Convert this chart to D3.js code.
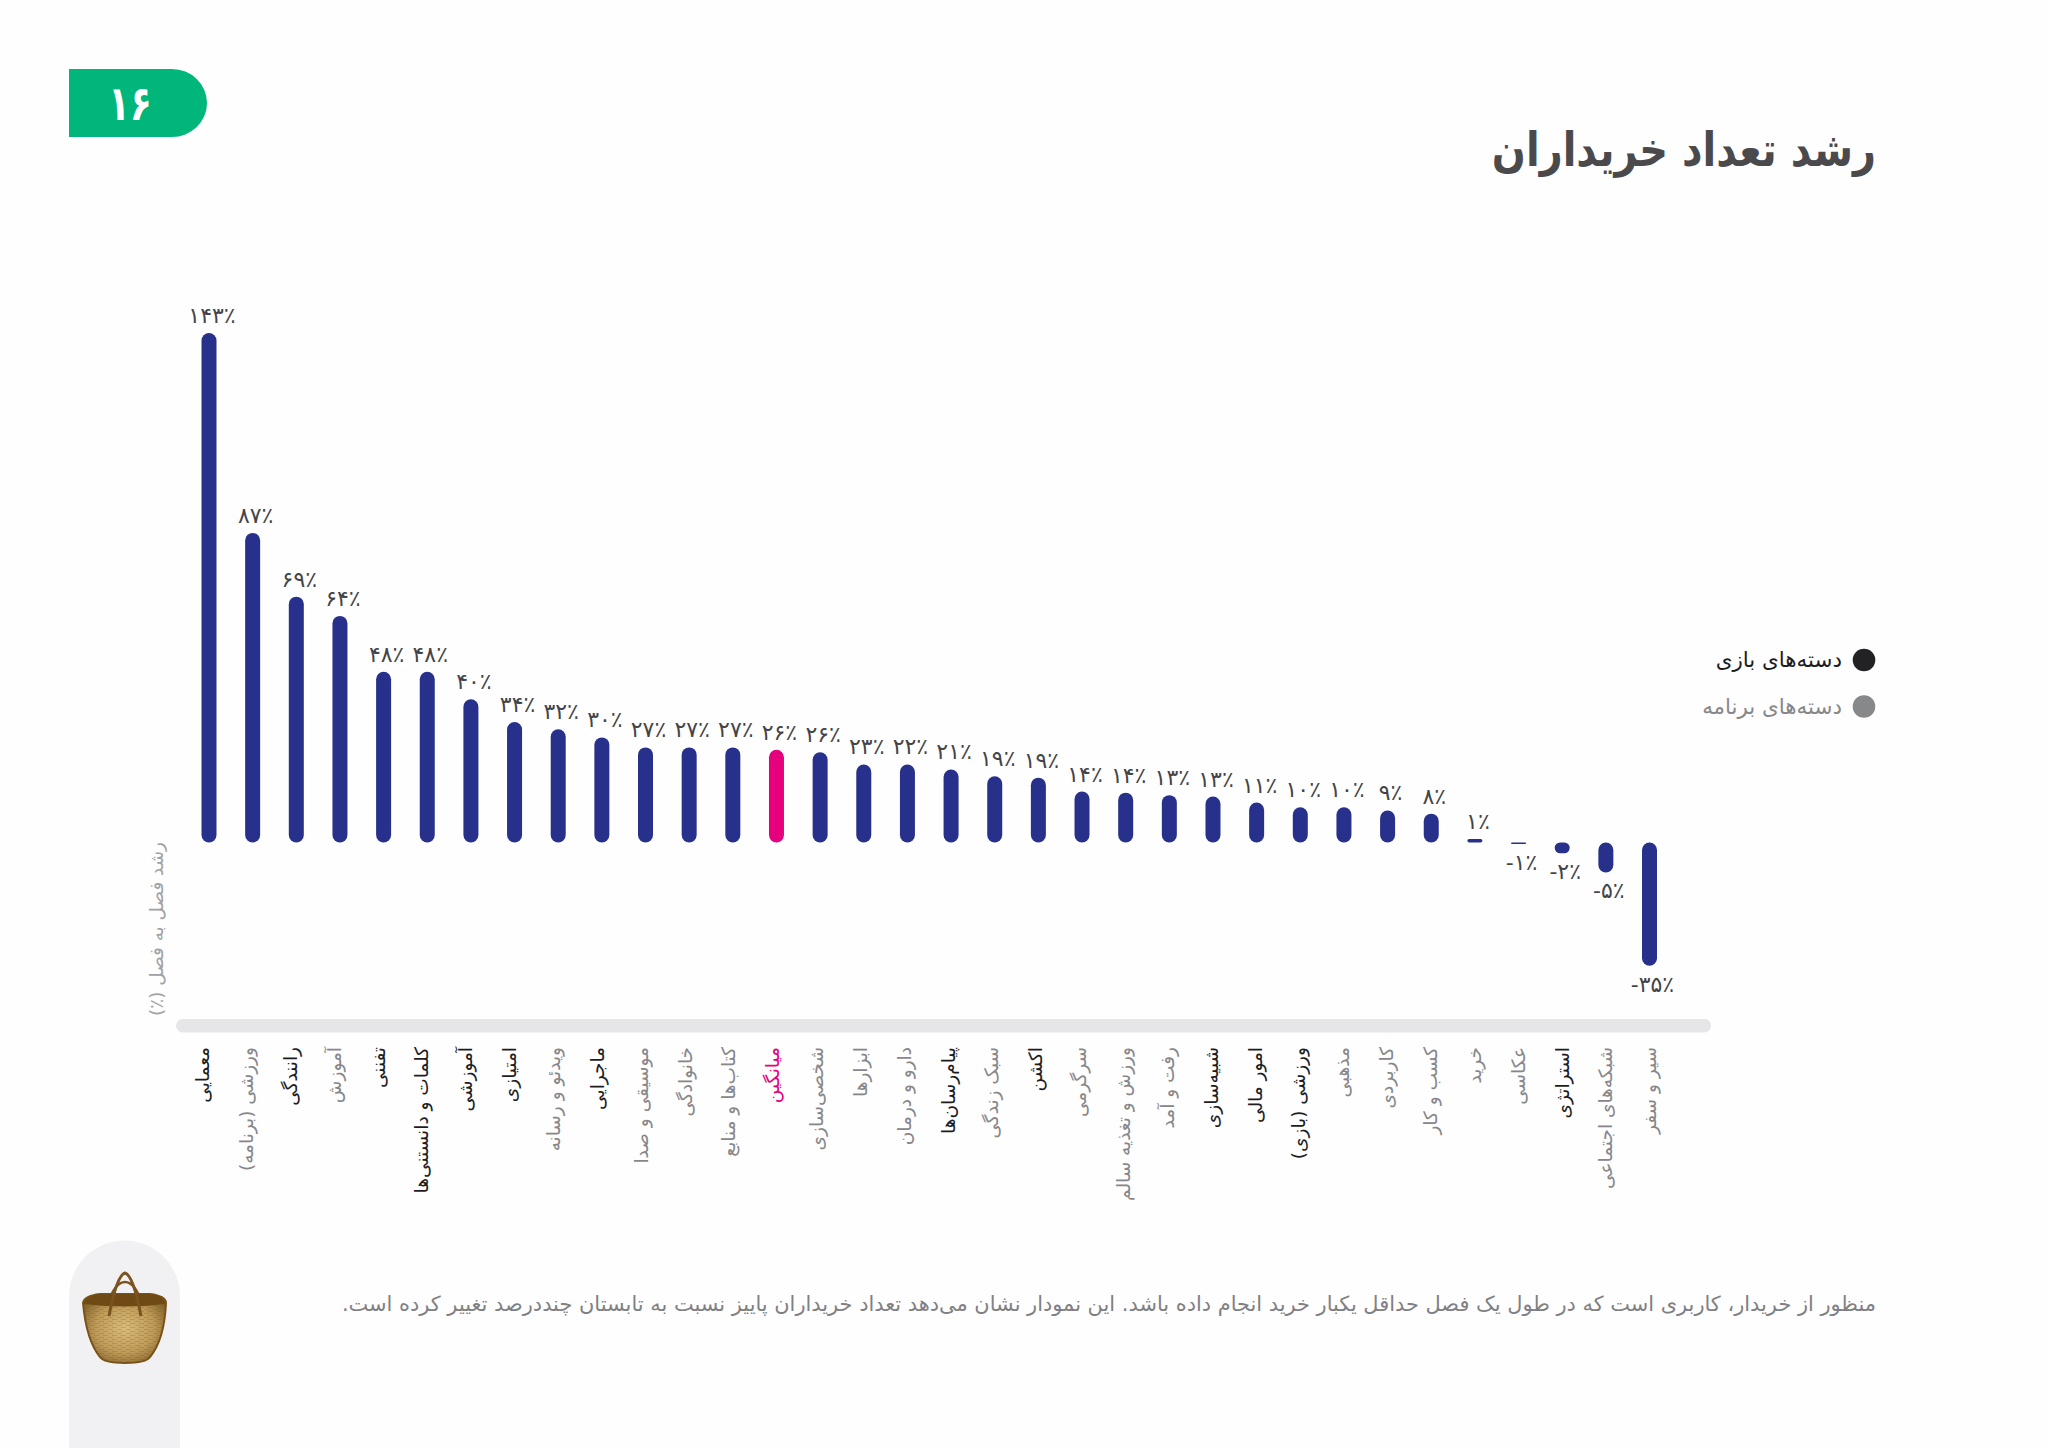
<!DOCTYPE html>
<html lang="fa"><head><meta charset="utf-8">
<script src="https://cdnjs.cloudflare.com/ajax/libs/d3/7.8.5/d3.min.js"></script>
<style>html,body{margin:0;padding:0;background:#fefefe}svg{display:block}
text{font-family:"DejaVu Sans",sans-serif}</style></head><body><div id="c"></div>
<script>
const categories=["معمایی","ورزشی (برنامه)","رانندگی","آموزش","تفننی","کلمات و دانستنی‌ها","آموزشی","امتیازی","ویدئو و رسانه","ماجرایی","موسیقی و صدا","خانوادگی","کتاب‌ها و منابع","میانگین","شخصی‌سازی","ابزارها","دارو و درمان","پیام‌رسان‌ها","سبک زندگی","اکشن","سرگرمی","ورزش و تغذیه سالم","رفت و آمد","شبیه‌سازی","امور مالی","ورزشی (بازی)","مذهبی","کاربردی","کسب و کار","خرید","عکاسی","استراتژی","شبکه‌های اجتماعی","سیر و سفر"];
const labelValues=[143,87,69,64,48,48,40,34,32,30,27,27,27,26,26,23,22,21,19,19,14,14,13,13,11,10,10,9,8,1,-1,-2,-5,-35];
const barValues=[143,86.9,69,63.6,47.9,47.9,40.2,33.8,31.8,29.5,26.7,26.7,26.7,26.05,25.3,21.9,21.9,20.5,18.6,18.2,14.3,14,13.3,12.9,11.2,9.9,9.9,9,8.1,1,-0.4,-3,-8.4,-34.6];
const groups=["g","a","g","a","g","g","g","g","a","g","a","a","a","m","a","a","a","g","a","g","a","a","a","g","g","g","a","a","a","a","a","g","a","a"];
const legendLabels=["دسته‌های بازی","دسته‌های برنامه"];
const title="رشد تعداد خریداران";
const yTitle="رشد فصل به فصل (٪)";
const note="منظور از خریدار، کاربری است که در طول یک فصل حداقل یکبار خرید انجام داده باشد. این نمودار نشان می‌دهد تعداد خریداران پاییز نسبت به تابستان چنددرصد تغییر کرده است.";
const pageNumber="۱۶";
const fa=s=>String(s).replace(/\d/g,d=>"۰۱۲۳۴۵۶۷۸۹"[d]);

const textColor={g:"#1d1d1f",a:"#87878a",m:"#e6007e"};
const svg=d3.select("#c").append("svg").attr("width",2048).attr("height",1448);
const x=d3.scalePoint().domain(categories).range([209,1649.5]);
const xLabel=d3.scalePoint().domain(categories).range([205,1652]);
const y=d3.scaleLinear().domain([-34.6,143]).range([965.8,333]);
const barW=15;

// page badge
svg.append("path").attr("d","M69 69H172A35 34 0 0 1 207 103A35 34 0 0 1 172 137H69Z").attr("fill","#00b67a");
svg.append("text").attr("transform","translate(130,120) scale(.74,1)").attr("text-anchor","middle")
  .attr("font-size",48).attr("font-weight","bold").attr("fill","#fff").text(pageNumber);

// title
svg.append("text").attr("transform","translate(1876,166) scale(.85,1)").attr("direction","rtl").attr("text-anchor","start")
  .attr("font-size",47).attr("font-weight","bold").attr("fill","#4a4a4d").text(title);

// axis band
svg.append("rect").attr("x",176).attr("y",1019).attr("width",1535).attr("height",13.5).attr("rx",6.5).attr("fill","#e6e6e8");

// bars
svg.append("g").selectAll("rect").data(barValues).join("rect")
  .attr("x",(d,i)=>x(categories[i])-barW/2)
  .attr("y",d=>Math.min(y(d),y(0)))
  .attr("width",barW)
  .attr("height",d=>Math.abs(y(d)-y(0)))
  .attr("rx",d=>Math.min(barW/2,Math.abs(y(d)-y(0))/2))
  .attr("fill",(d,i)=>groups[i]==="m"?"#e6007e":"#27308a");

// value labels
svg.append("g").selectAll("text").data(labelValues).join("text")
  .attr("x",(d,i)=>x(categories[i])+3)
  .attr("y",(d,i)=>d>=0?y(barValues[i])-10:y(barValues[i])+26)
  .attr("text-anchor","middle").attr("direction","ltr")
  .attr("font-size",22).attr("fill","#444447")
  .text(d=>(d<0?"-":"")+fa(Math.abs(d))+"٪");

// category labels through axis
const ax=svg.append("g").attr("transform","translate(0,1040)").call(d3.axisBottom(xLabel).tickSize(0));
ax.select(".domain").remove();
ax.selectAll(".tick text")
  .attr("transform","rotate(-90)").attr("x",-7).attr("y",0).attr("dy","0.2em")
  .attr("direction","rtl").attr("text-anchor","start")
  .attr("font-size",18.5).attr("font-family","DejaVu Sans")
  .attr("fill",(d,i)=>textColor[groups[i]]);

// y title
svg.append("text").attr("transform","translate(157,842) rotate(-90)").attr("dy","0.35em")
  .attr("direction","rtl").attr("text-anchor","start").attr("font-size",18.4).attr("fill","#a2a2a5").text(yTitle);

// legend
const legendDots=["#222224","#86888a"], legendText=["#1d1d1f","#87878a"];
legendLabels.forEach((t,i)=>{
  const ly=660+i*46.5;
  svg.append("circle").attr("cx",1864).attr("cy",ly).attr("r",11.3).attr("fill",legendDots[i]);
  svg.append("text").attr("x",1842).attr("y",ly+7).attr("direction","rtl").attr("text-anchor","start")
    .attr("font-size",21.4).attr("fill",legendText[i]).text(t);
});

// note
svg.append("text").attr("x",1876).attr("y",1311).attr("direction","rtl").attr("text-anchor","start")
  .attr("font-size",20.9).attr("fill","#808084").text(note);

// sidebar and basket
svg.append("path").attr("d","M69 1448V1296A55.5 55.5 0 0 1 180 1296V1448Z").attr("fill","#f1f1f3");
const defs=svg.append("defs");
const rg=defs.append("radialGradient").attr("id","bk").attr("cx","50%").attr("cy","50%").attr("r","60%");
rg.append("stop").attr("offset","0%").attr("stop-color","#dcbd7c");
rg.append("stop").attr("offset","60%").attr("stop-color","#bd9a58");
rg.append("stop").attr("offset","100%").attr("stop-color","#7f5f28");
const pt=defs.append("pattern").attr("id","wv").attr("width",9).attr("height",4).attr("patternUnits","userSpaceOnUse");
pt.append("path").attr("d","M0 1.5H5M4 3.5H9").attr("stroke","#6f5220").attr("stroke-width",.7).attr("opacity",.35);
const bk=svg.append("g");
const handle="M109 1316C113 1295 118 1275 125 1273C132 1275 137 1295 141 1316";
const body="M83 1303Q84 1296 100 1294H150Q166 1296 166 1303C165 1325 160 1345 150 1357Q146 1363 125 1363Q104 1363 100 1357C90 1345 85 1325 83 1303Z";
bk.append("path").attr("d","M107 1306C112 1290 118 1282 125 1282C132 1282 138 1290 143 1306").attr("fill","none").attr("stroke","#7a5320").attr("stroke-width",2.5);
bk.append("path").attr("d",body).attr("fill","url(#bk)").attr("stroke","#7a5218").attr("stroke-width",2);
bk.append("path").attr("d",body).attr("fill","url(#wv)");
bk.append("path").attr("d","M84 1304Q85 1296 100 1294H150Q165 1296 165 1304Q125 1309 84 1304Z").attr("fill","#6f4a14");
bk.append("path").attr("d",handle).attr("fill","none").attr("stroke","#7a5320").attr("stroke-width",3);
</script></body></html>
